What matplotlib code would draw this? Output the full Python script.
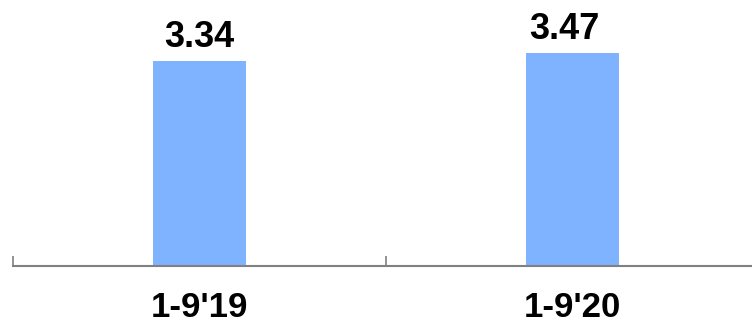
import matplotlib
matplotlib.use("Agg")
import matplotlib.pyplot as plt

periodos = ["1-9'19", "1-9'20"]
valores = [3.34, 3.47]
etiquetas = ["3.34", "3.47"]
desplaz_x = [0, -6]

plt.rcParams["font.family"] = ["Liberation Sans", "DejaVu Sans"]

fig = plt.figure(figsize=(7.52, 3.23), dpi=100)
ax = fig.add_axes([13/752, 57/323, 739/752, 245.6/323])

x = range(len(periodos))
ax.bar(x, valores, width=0.25, color="#80b3ff", zorder=2)

for i, v in enumerate(valores):
    ax.annotate(etiquetas[i], (i, v), xytext=(desplaz_x[i], 4), textcoords="offset points",
                ha="center", va="bottom", fontsize=26, fontweight="bold")

for s in ["top", "right", "left"]:
    ax.spines[s].set_visible(False)
ax.spines["bottom"].set_color("#808080")
ax.spines["bottom"].set_linewidth(1.5)
ax.set_yticks([])

# separadores entre categorias
ax.set_xticks([-0.5, 0.5])
ax.tick_params(axis="x", direction="in", length=7, width=1.2, color="#808080", labelbottom=False)
ax.set_xticks(list(x), labels=periodos, minor=True)
ax.tick_params(axis="x", which="minor", length=0, pad=18, labelsize=25)
for t in ax.get_xticklabels(minor=True):
    t.set_fontweight("bold")

ax.set_xlim(-0.5, 1.481)
ax.set_ylim(0, 4)

fig.savefig("out.png", dpi=100)
